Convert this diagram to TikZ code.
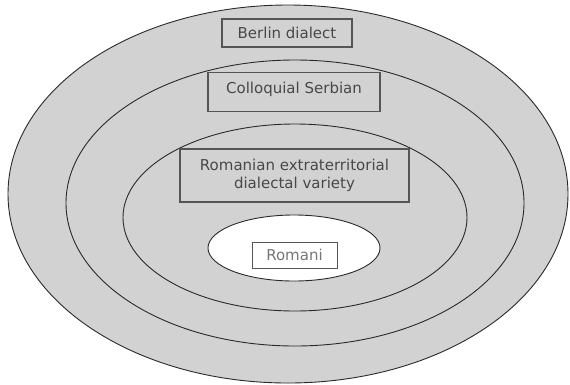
\documentclass[tikz,border=0pt]{standalone}
\usepackage{fontspec}
\setmainfont{DejaVu Sans}
\usetikzlibrary{shapes.geometric}
\definecolor{ringfill}{HTML}{D2D2D2}
\definecolor{ringline}{HTML}{2A2A2A}
\definecolor{boxline}{HTML}{555555}
\definecolor{txt}{HTML}{484848}
\tikzset{
  ring/.style={ellipse, draw=ringline, line width=0.9pt, inner sep=0pt},
  lbox/.style={draw=boxline, line width=1.3pt, inner sep=0pt, text=txt,
    font=\fontsize{15}{18}\selectfont, align=center},
}
\begin{document}
\begin{tikzpicture}[x=1pt,y=-1pt]
\useasboundingbox (0,0) rectangle (570,384);
\node[ring, fill=ringfill, minimum width=560, minimum height=378] (outer) at (288,194) {};
\node[ring, fill=ringfill, minimum width=458, minimum height=286] (middle) at (295,203) {};
\node[ring, fill=ringfill, minimum width=344, minimum height=187] (inner) at (295,217.5) {};
\node[ring, fill=white, minimum width=172, minimum height=66] (core) at (294,248) {};
\node[lbox, minimum width=130, minimum height=28] (berlin) at (287,33) {Berlin dialect};
\node[lbox, minimum width=172, minimum height=39, text depth=18.5pt, text height=20.5pt, anchor=north] (serb) at (294,72) {Colloquial Serbian};
\node[lbox, minimum width=229, minimum height=53] (roman) at (294.5,175.5) {Romanian extraterritorial\\dialectal variety};
\node[lbox, fill=white, line width=1pt, text=txt!75, minimum width=85, minimum height=26] (romani) at (294.5,255) {Romani};
\end{tikzpicture}
\end{document}
